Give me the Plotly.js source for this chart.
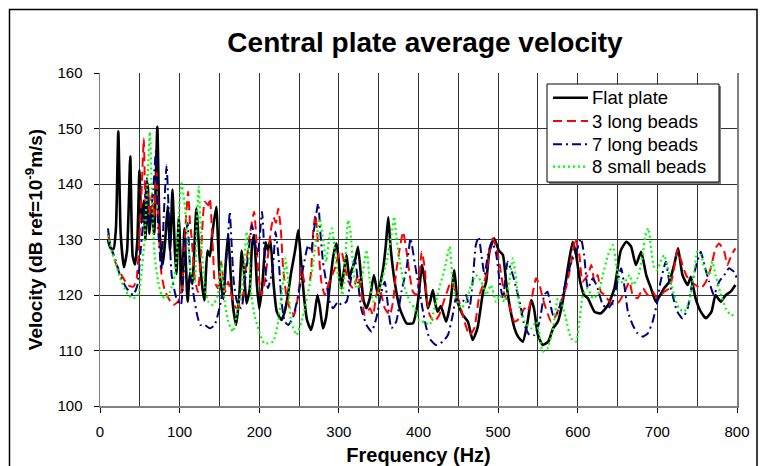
<!DOCTYPE html>
<html>
<head>
<meta charset="utf-8">
<script src="https://cdn.plot.ly/plotly-3.0.1.min.js"></script>
<style>
html,body{margin:0;padding:0;background:#fff;}
#chart{width:768px;height:466px;}
</style>
</head>
<body>
<div id="chart"></div>
<script>
// ---- Data ----
const seriesNames = ["Flat plate", "3 long beads", "7 long beads", "8 small beads"];

const flatFreq = [10,13,17,20,23,26,30,34,38,41,44,47,49.5,52,55,57,60,62,65,68,72,75,79,82,85,88,91,94,96,99,103,106,110,113,116,121,125,128,131,135,138,141,146,150,155,158,161,164,167,171,175,178,181,184,188,191,193.5,197,200,204,208,211,214,218,222,228,232,236,240,245,249,252,256,260,265,269,273,276,280,284,288,293,297,300,303,306,309.6,313,316,320,324,328,331,334.7,339,344,349,352,355.6,359,362,365,370,376.5,385,393,399,404.5,408,411.7,415,418,421,424,428,434.7,440,445,449,455.6,462,468,474,481,485,489,495,501,506,510,515,520.6,525,531,537,541.5,545,550,556,563,569,575,581,587.5,593.7,598,603,608,612.7,621,629,638,646,654,661,667,673,679.6,686,692,698,702,708.5,715,721,726,731.5,738,742,748,754.5,761,768,773,779.6,786,792,798];
const flatVel = [130,128.5,128.3,132,149.5,131,125,128,145,127,125.5,130,142.5,133,137,130,140,131,136,131,150.3,131,125.5,130,136,128,139,128,123.8,134,120.5,132,118.8,124,122,135.6,127,122,119,128,127,131,135.9,124,119.3,126,131,124,118,114.6,120,128,124,118.5,121,129,130.8,122,117.5,122,129.5,128,130,122,117,115.5,117,120,124,128,131.7,127,120,115.5,113.7,116,120,118,114,116,121,127,129.3,126,121.2,124,127.2,123,124.5,126,128.7,123,119,117.6,119.5,123.6,120,122,124.8,129,134,128.5,122.5,117.6,114.9,114.9,118.5,125.4,122.4,117.6,119,120.9,118.5,117,118,115.2,118.5,124.5,118.8,116.4,115.2,111.9,114,120.5,122.4,127.8,130.2,128,127.2,122.4,117.6,114,112.5,111.6,115.2,119.1,117.6,112.8,111,111.6,114,115.2,118.8,124.8,129.6,127.2,122.4,120,119.4,117,116.7,118.2,121.2,128,129.6,128.7,125.4,127.8,123.6,121.2,118.8,119.6,121.2,122.4,125.4,128.4,123.6,121.8,123.3,119.4,117,115.8,117,120,118.8,120,120.6,121.8];

const beads3Freq = [10,14,19,27,35,42,46,49,52,55,57,59,62,65,68,71,74,77,81,86,92,98,103,106,108,110.7,113,115,119,123,127,131.6,136,138,142,144,148,152,157,161,165,171,178,184,188,193.5,196,199,203,207,211,215,218,221,223.8,227,230,234,238.4,243.8,249,253,257,263,268,270.6,274,278,282.3,288,295,301,303.4,307,312,318,324,328,332.6,339,343,347,351,357.7,364,368,372,376.5,380.7,385,389,393,397.4,401,404,408,410,414,420,426,433,441,445,451,457.7,464,470,476.5,481,485,489,493,498,504,508,514,520.6,527,533,537,543,547.7,552,556,560,566.6,573,579,585,592,596.7,602,606,612.7,617,621,625,629,633.6,640,646,652,659,665,669,675,682,688,694,700,708.5,715,721,725,729,736,742,748,754.5,761,767,773,777.5,784,788,793,798];
const beads3Vel = [131,128.5,126,123.6,121.8,121.5,123,129,138,148.2,137,141,134,138,134,142.2,131,124,121,119.4,118.2,118.8,121.3,128,134,138.6,133,130.5,123,120.5,128,136.8,136.2,137.4,127.8,122.4,121.2,126,120.5,122.4,120,117.6,118.8,126,130.8,135,131,123.6,120,122.4,127.2,132,134,133,135.6,132,124.8,120,117.6,116.4,120,124.8,122.4,122.4,132,134.4,129,122.4,120,122.4,124.8,127.8,127.8,125.4,122.4,121.2,123.6,120.6,116.4,117.6,116.4,120,121.2,117.6,116.4,118.8,124.2,128.4,131.4,127.8,123.6,120.6,120,123,127.8,124.8,120,116.4,115.2,116.4,119.4,122.4,121.2,118.8,115.2,112.8,114,120,121.8,123.6,127.8,130.2,128.5,123.6,120,118.2,115.2,115.8,117.6,117,120,123,121.8,119.4,117.6,115.2,116.4,118.8,121.2,126,130.2,127.2,122.4,123.6,125.4,122.4,123.6,120.6,120,118.8,118.2,118.8,120.6,122.4,120,119.4,121.2,120,120.6,119.4,120.6,121.2,124.8,128.1,126.6,123.6,122.4,121.8,121.2,122.4,124.8,128.4,129.3,127.8,125.4,127.2,128.4];

const beads7Freq = [10,13,19,25,33.5,41.8,47,51,55,57,59,61,64,67,70,73,77,80,83.6,86,90,96,101.5,105,108,110,113,117,122,126,131.6,138,144,150,156,161,163,165,168,172,177.6,182,186,191,194,198,203.5,206,209,211,217,220.4,224,228,232,236.3,242,249,255,261.4,265,269,274,277,280,284,288.5,292.7,299,303.4,309.6,316,320,324,328,334.7,341,347,353.5,357.7,362,366,372,378.6,385,390,395,400,405,409,413.8,422,430.5,437,443,447,451,455.6,459.8,464,468,472,475.7,479,483,487,492,497,502,506,512,518.5,522.7,527,533,539.4,545.7,552,558,562,569,573,579,585,592,598,604,608,612.7,619,625,631.5,638,644,650,654.5,659,663,669,675,681.7,688,694,700,704,710.6,715,719,725,731.5,738,744,750,754.5,759,765,771,777.5,784,790,796,800];
const beads7Vel = [132,129,126.5,123.6,121.2,120,121.8,128,134.5,138,141,132,134.5,139,145.8,132,124.5,134,143.4,136.2,123.6,119.4,118.2,124,131,133,125,120.5,116.4,114.6,114.6,114,114.6,117.6,122.4,131,135,130,122.4,118.8,117.6,122.4,127.2,132.6,130,127.2,135,129,122.4,121.2,124.8,131.4,127.2,118.8,115.2,114.6,115.8,120,124.8,129,127.8,132,136.5,130.8,126,122.4,118.8,117.6,118.8,118.2,118.8,123.6,126.6,122.4,117.6,114.6,113.4,115.8,120.6,122.4,117.6,114,115.2,120.6,124.8,130.2,126,121.8,117.6,114.6,112.2,111,111.6,112.8,116.4,119.4,118.8,118.8,120,117.6,122.4,129,130.5,127.2,123.6,127.2,129.6,127.8,122.4,119.4,126,123.6,121.2,118.8,114.6,112.8,112.8,115.2,120,120.6,116.4,116.4,118.8,122.4,126,127.8,130.2,127.2,121.2,123,121.2,118.2,117.6,118.8,122.4,124.8,121.2,117,114.6,113.1,112.5,113.1,115.2,118.8,122.4,126,122.4,120,117,115.8,117.6,122.4,126,127.8,125.4,122.4,120,122.4,123.6,124.8,124.2,123];

const beads8Freq = [10,15,19,27,35.5,41.8,48,52,56,60,62.7,65,67,69,73,77.3,81.5,88,94,98,100,102.4,106,110,115,119,121,124,127,131.6,136,142,148,152.5,156.7,161,167,173,179.5,184,187,190,194,200,206,211,217.5,223.8,230,233,236.3,240,246.8,253,259,265.6,270,276,280,284,288.5,291.5,295,299,304.5,311.7,315,318,322,328,334.7,339,343,349,353.5,360,366,369.4,372,376.5,383,389,395,401.6,407.5,414,420,426,433,439,443,447,453.5,460,466,472,479,485,491,497.4,502,508,514,518.5,523,527,533,541.5,548,552,556,562,569,575,579,585,591.6,598,602,606.5,612.7,619,625,631.5,638,644,648,652,659,665,669,675,681.7,685,688.8,692,696,700,704,708.5,715,721,727,733.6,740,746,750,755,759,765,769,773,780,786,792,798];
const beads8Vel = [130.8,127.8,126,122.4,120,119.4,120,124,130,142,149.4,139.2,131,126.6,122.4,120,119.4,120.6,123.6,130.8,137,140.1,136.8,130.2,123.6,122.4,131,139.5,130.2,121.2,118.8,118.2,120,126,118.8,115.2,113.4,117.6,122.4,131.4,127.2,120,116.4,113.4,111.3,111.3,111.6,115.2,122.4,126.6,122.4,115.2,112.8,115.2,118.8,123.6,128.4,133.8,130.2,126,130.8,132,127.8,123.6,120,133.5,130.8,124.8,121.2,122.4,128.1,122.4,118.8,120,122.4,126,130.8,134.1,130.8,126,121.2,118.8,117.6,115.2,115.2,114.6,117.6,121.2,124.8,128.7,122.4,119.4,117.6,118.8,121.8,123.6,122.4,120,121.8,118.8,120,118.8,122.4,126.6,122.4,117.6,115.2,114,115.2,112.8,109.8,110.4,114,119.4,118.8,115.8,112.2,111.6,115.2,120,121.2,119.4,120,123.6,127.2,129,126,122.4,122.4,123.6,121.8,123,127.2,130.8,132,128.4,125,124.5,126,127.2,123.6,120,117.6,117,118.8,123.6,127.8,127.2,124.8,123.6,126,123.6,120,117.6,116.4,116.4];

const yTickVals = [100,110,120,130,140,150,160];
const xTickVals = [0,100,200,300,400,500,600,700,800];

// ---- Styling ----
const FONT = "Liberation Sans, Arial, sans-serif";
const W = 768, H = 466;
const M = {l:100, r:31, t:73, b:60};
const pw = W - M.l - M.r, ph = H - M.t - M.b;
const px2x = p => (p - M.l) / pw;
const py2y = p => (H - M.b - p) / ph;

const styles = [
  {color:'#000000', dash:'solid', width:2.6},
  {color:'#ff0000', dash:'9px,5px', width:2},
  {color:'#000080', dash:'9px,4px,2px,4px', width:2},
  {color:'#00ff00', dash:'2px,3px', width:2.2}
];
const seriesX = [flatFreq, beads3Freq, beads7Freq, beads8Freq];
const seriesY = [flatVel, beads3Vel, beads7Vel, beads8Vel];

const data = seriesNames.map((n, i) => ({
  type:'scatter', mode:'lines', name:n, x:seriesX[i], y:seriesY[i],
  line:{color:styles[i].color, width:styles[i].width, dash:styles[i].dash, shape:'spline', smoothing:0.5}
}));

// Legend box drawn with shapes + annotations (to match the reference box exactly)
const legBox = {l:547, r:719, t:84, b:182};
const rowY = [97.7, 121, 144.3, 166.7];
const shapes = [
  {type:'rect', xref:'paper', yref:'paper', layer:'above',
   x0: px2x(legBox.l+2), x1: px2x(legBox.r+2), y0: py2y(legBox.b+2), y1: py2y(legBox.t+2),
   fillcolor:'#808080', line:{width:0}},
  {type:'rect', xref:'paper', yref:'paper', layer:'above',
   x0: px2x(legBox.l), x1: px2x(legBox.r), y0: py2y(legBox.b), y1: py2y(legBox.t),
   fillcolor:'#ffffff', line:{color:'#000', width:1}},
  {type:'rect', xref:'paper', yref:'paper', layer:'above',
   x0: px2x(9.5), x1: px2x(757), y0: py2y(490), y1: py2y(9.5),
   line:{color:'#000', width:1.5}, fillcolor:'rgba(0,0,0,0)'}
];
const annotations = [];
seriesNames.forEach((n, i) => {
  shapes.push({type:'line', xref:'paper', yref:'paper', layer:'above',
    x0: px2x(553), x1: px2x(588), y0: py2y(rowY[i]), y1: py2y(rowY[i]),
    line:{color:styles[i].color, width:styles[i].width, dash:styles[i].dash}});
  annotations.push({xref:'paper', yref:'paper', x: px2x(590), y: py2y(rowY[i]),
    xanchor:'left', yanchor:'middle', showarrow:false, text:n,
    font:{family:FONT, size:18.5, color:'#000'}});
});

const layout = {
  width: W, height: H,
  margin: M,
  paper_bgcolor: '#ffffff', plot_bgcolor: '#ffffff',
  font: {family: FONT, color: '#000', size: 15},
  title: {text: '<b>Central plate average velocity</b>', font:{family: FONT, size: 28, color:'#000'},
          x: px2x(425), xref:'paper', xanchor:'center', y: 1 - 42/H, yref:'container', yanchor:'middle'},
  showlegend: false,
  xaxis: {range:[0,800], tickvals: xTickVals, ticks:'outside', ticklen:5, tickcolor:'#000',
          showgrid:true, gridcolor:'#333333', gridwidth:1,
          minor:{dtick:50, showgrid:true, gridcolor:'#333333', gridwidth:1, ticks:''},
          showline:true, linecolor:'#808080', linewidth:2, zeroline:false,
          tickfont:{family:FONT, size:15, color:'#000'}, ticklabelstandoff:6,
          title:{text:'<b>Frequency (Hz)</b>', font:{family:FONT, size:20, color:'#000'}, standoff:15},
          automargin:false, fixedrange:true},
  yaxis: {range:[100,160], tickvals: yTickVals, ticks:'outside', ticklen:5, tickcolor:'#000',
          showgrid:true, gridcolor:'#333333', gridwidth:1,
          showline:true, mirror:true, linecolor:'#808080', linewidth:1.5, zeroline:false,
          tickfont:{family:FONT, size:15, color:'#000'}, ticklabelstandoff:8,
          title:{text:'<b>Velocity (dB ref=10<sup>-9</sup>m/s)</b>', font:{family:FONT, size:19, color:'#000'}, standoff:10},
          automargin:false, fixedrange:true},
  shapes: shapes,
  annotations: annotations
};

Plotly.newPlot('chart', data, layout, {staticPlot:true, displayModeBar:false});
</script>
</body>
</html>
